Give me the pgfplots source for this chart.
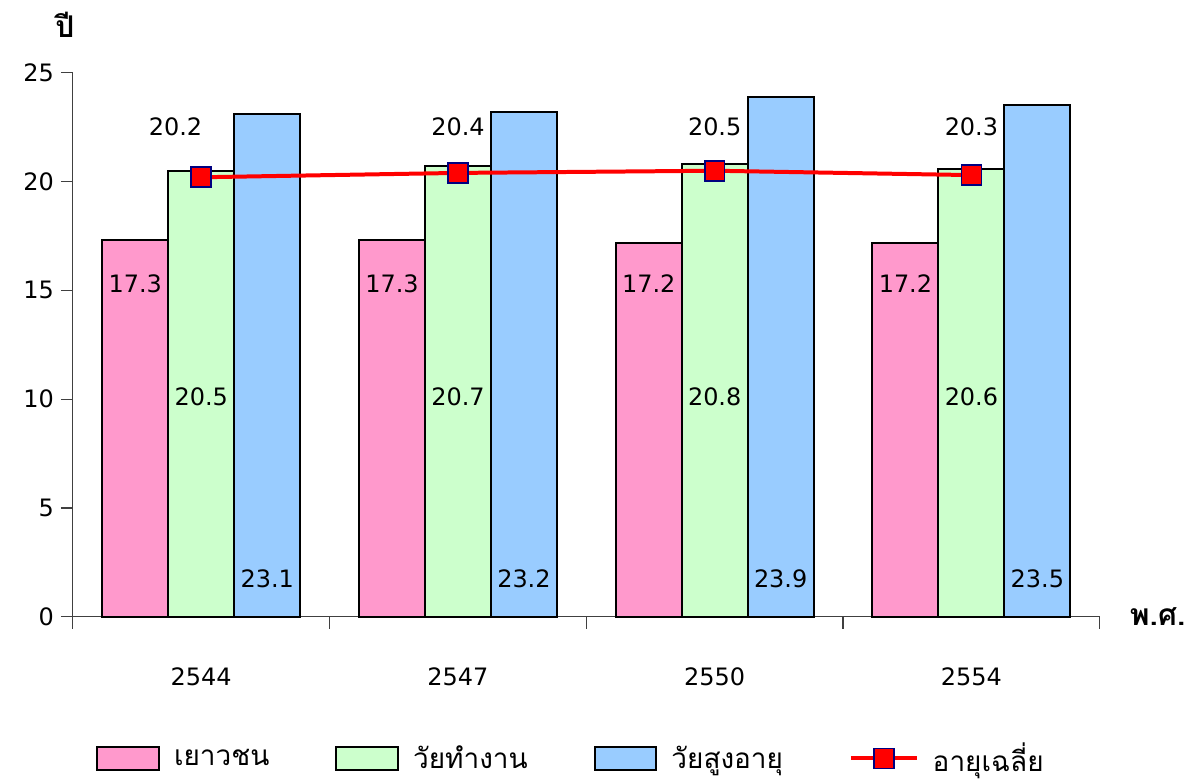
\documentclass[border=0pt]{standalone}
\usepackage{fontspec}
\setmainfont{DejaVu Sans}
\newfontfamily\thaifont[Script=Thai]{Loma}
\usepackage{pgfplots}
\pgfplotsset{compat=1.18}
\definecolor{cpink}{HTML}{FF99CC}
\definecolor{cgreen}{HTML}{CCFFCC}
\definecolor{cblue}{HTML}{99CCFF}
\definecolor{cnavy}{HTML}{000080}
\begin{document}
\begin{tikzpicture}[font=\fontsize{12}{14}\selectfont]
\begin{axis}[
  scale only axis, width=514.5pt, height=272.5pt,
  xmin=-0.5, xmax=3.5, ymin=0, ymax=25,
  axis x line*=bottom, axis y line*=left,
  axis line style={draw=black!75, line width=0.6pt},
  tick style={draw=black!75, line width=0.6pt},
  tick align=outside, major tick length=6pt,
  ytick={0,5,10,15,20,25},
  xtick={-0.5,0.5,1.5,2.5,3.5}, xticklabels={,,,,},
  extra x ticks={0,1,2,3}, extra x tick labels={2544,2547,2550,2554},
  extra x tick style={major tick length=0pt, tick label style={yshift=-22pt}},
  tick label style={font=\fontsize{12}{14}\selectfont},
  /pgf/number format/assume math mode=true,
  clip=false,
  legend columns=4,
  legend style={draw=none, at={(0.486,0)}, anchor=center, yshift=-71pt,
    font=\thaifont\fontsize{14}{16}\selectfont,
    /tikz/every odd column/.append style={column sep=5pt},
    /tikz/every even column/.append style={column sep=31pt}},
]
\addplot[ybar, bar width=0.257, bar shift=-0.257, fill=cpink, draw=black, line width=1pt,
  legend image code/.code={\draw[fill=cpink, draw=black, line width=1pt] (0pt,-5.75pt) rectangle (31pt,5.75pt);}]
  coordinates {(0,17.3) (1,17.3) (2,17.2) (3,17.2)};
\addlegendentry{เยาวชน}
\addplot[ybar, bar width=0.257, bar shift=0, fill=cgreen, draw=black, line width=1pt,
  legend image code/.code={\draw[fill=cgreen, draw=black, line width=1pt] (0pt,-5.75pt) rectangle (31pt,5.75pt);}]
  coordinates {(0,20.5) (1,20.7) (2,20.8) (3,20.6)};
\addlegendentry{วัยทำงาน}
\addplot[ybar, bar width=0.257, bar shift=0.257, fill=cblue, draw=black, line width=1pt,
  legend image code/.code={\draw[fill=cblue, draw=black, line width=1pt] (0pt,-5.75pt) rectangle (31pt,5.75pt);}]
  coordinates {(0,23.1) (1,23.2) (2,23.9) (3,23.5)};
\addlegendentry{วัยสูงอายุ}
\addplot[red, line width=2pt, mark=square*, mark size=5pt,
  mark options={fill=red, draw=cnavy, line width=0.8pt},
  legend image code/.code={\draw[red, line width=2pt] (0pt,0pt) -- (33pt,0pt);
    \draw[fill=red, draw=cnavy, line width=0.8pt] (11.5pt,-5pt) rectangle (21.5pt,5pt);}]
  coordinates {(0,20.2) (1,20.4) (2,20.5) (3,20.3)};
\addlegendentry{อายุเฉลี่ย}
% value labels
\node at (axis cs:-0.257,15.3) {17.3};
\node at (axis cs:0.743,15.3) {17.3};
\node at (axis cs:1.743,15.3) {17.2};
\node at (axis cs:2.743,15.3) {17.2};
\node at (axis cs:0,10.1) {20.5};
\node at (axis cs:1,10.1) {20.7};
\node at (axis cs:2,10.1) {20.8};
\node at (axis cs:3,10.1) {20.6};
\node at (axis cs:0.257,1.75) {23.1};
\node at (axis cs:1.257,1.75) {23.2};
\node at (axis cs:2.257,1.75) {23.9};
\node at (axis cs:3.257,1.75) {23.5};
\node at (axis cs:-0.1,22.5) {20.2};
\node at (axis cs:1,22.5) {20.4};
\node at (axis cs:2,22.5) {20.5};
\node at (axis cs:3,22.5) {20.3};
\end{axis}
\node[font=\thaifont\bfseries\fontsize{15}{17}\selectfont] at ([shift={(-4pt,24pt)}]current axis.north west) {ปี};
\node[font=\thaifont\bfseries\fontsize{15}{17}\selectfont] at ([shift={(29pt,0pt)}]current axis.south east) {พ.ศ.};
\path ([shift={(-36.5pt,-79pt)}]current axis.south west) rectangle ([shift={(45pt,36.5pt)}]current axis.north east);
\end{tikzpicture}
\end{document}
